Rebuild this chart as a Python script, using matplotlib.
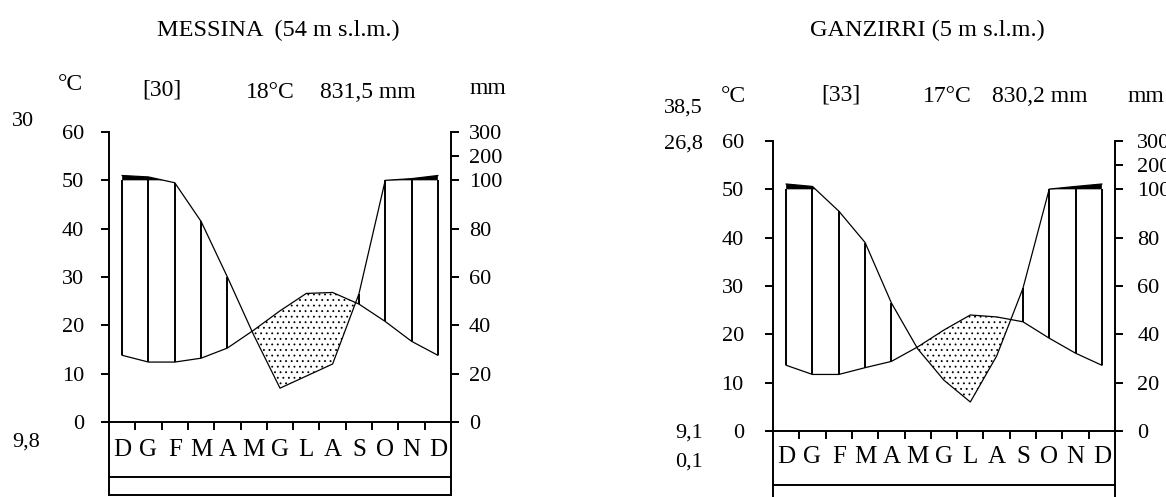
import numpy as np
import matplotlib
matplotlib.use('Agg')
import matplotlib.pyplot as plt

W, H, DPI = 1166, 497, 100

plt.rcParams['font.family'] = 'Liberation Serif'
plt.rcParams['hatch.linewidth'] = 0.6
plt.rcParams['hatch.color'] = 'black'

months = ['D', 'G', 'F', 'M', 'A', 'M', 'G', 'L', 'A', 'S', 'O', 'N', 'D']
temp_ticks = [0, 10, 20, 30, 40, 50, 60]
mm_ticks = [0, 20, 40, 60, 80, 100, 200, 300]

# Messina (54 m s.l.m.)
messina_temp = [13.8, 12.4, 12.4, 13.2, 15.3, 19.0, 23.0, 26.6, 26.8, 24.4, 20.8, 16.7, 13.8]
messina_prec = [120, 114, 99, 83, 60, 36, 14, 19, 24, 53, 100, 107, 120]

# Ganzirri (5 m s.l.m.)
ganzirri_temp = [13.6, 11.7, 11.7, 13.1, 14.4, 17.4, 20.9, 24.0, 23.6, 22.6, 19.2, 16.1, 13.6]
ganzirri_prec = [122, 112, 91, 78, 53, 34, 21, 12, 31, 59, 101, 112, 122]


def prec_scale(mm):
    # 2 mm = 1 degC up to 100 mm, then 20 mm = 1 degC
    return mm / 2.0 if mm <= 100 else 50 + (mm - 100) / 20.0


def ftext(fig, x, y, s, size=16, ha='center'):
    fig.text(x / W, 1 - y / H, s, ha=ha, va='center', fontsize=size)


def chart(fig, left, right, top_px, zero_px, bottom_px, temp, prec,
          box_y, label_y, lpad, rpad, show_bottom):
    ymin = -60.0 * (bottom_px - zero_px) / (zero_px - top_px)
    ax = fig.add_axes([left / W, 1 - bottom_px / H, (right - left) / W,
                       (bottom_px - top_px) / H])
    ax.set_xlim(-0.5, 12.5)
    ax.set_ylim(ymin, 60)

    x = np.arange(len(months))
    t = np.array(temp)
    p = np.array([prec_scale(v) for v in prec])

    # humid period: vertical lines at each month
    for xi, ti, pi in zip(x, t, p):
        if pi > ti:
            ax.plot([xi, xi], [ti, min(pi, 50)], color='black', lw=1.4,
                    solid_capstyle='butt')
    # above 100 mm in black
    ax.fill_between(x, 50, p, where=p > 50, interpolate=True,
                    color='black', lw=0)
    # dry period dotted
    ax.fill_between(x, p, t, where=p < t, interpolate=True,
                    facecolor='none', edgecolor='black', hatch='...', lw=0)

    ax.plot(x, t, color='black', lw=0.9)
    ax.plot(x, p, color='black', lw=0.9)

    # month axis and the box under it
    ax.plot([-0.015, 1.015], [0, 0], color='black', lw=1.4,
            transform=ax.get_yaxis_transform(), clip_on=False)
    ax.plot([0, 1], [box_y, box_y], color='black', lw=1.4,
            transform=ax.get_yaxis_transform(), clip_on=False)
    for xi in x[:-1]:
        ax.plot([xi + 0.5, xi + 0.5], [0, -1.75], color='black', lw=1.4,
                solid_capstyle='butt')
    for xi, m in zip(x, months):
        ax.text(xi, label_y, m, ha='center', va='center', fontsize=18)

    ax.set_xticks([])
    ax.set_yticks(temp_ticks)
    ax.tick_params(axis='y', direction='out', length=6, width=1.4,
                   pad=lpad, labelsize=16)
    ax.spines['top'].set_visible(False)
    ax.spines['right'].set_visible(False)
    ax.spines['bottom'].set_visible(show_bottom)
    for s in ('left', 'bottom'):
        ax.spines[s].set_linewidth(1.4)

    ax2 = ax.twinx()
    ax2.set_ylim(ymin, 60)
    ax2.set_yticks([prec_scale(v) for v in mm_ticks])
    ax2.set_yticklabels([str(v) for v in mm_ticks])
    ax2.tick_params(axis='y', direction='out', length=6, width=1.4,
                    pad=rpad, labelsize=16)
    for s in ('top', 'left', 'bottom'):
        ax2.spines[s].set_visible(False)
    ax2.spines['right'].set_linewidth(1.4)
    return ax


def main():
    fig = plt.figure(figsize=(W / DPI, H / DPI), dpi=DPI)

    chart(fig, 109, 451, 132, 422, 495, messina_temp, messina_prec,
          -11.4, -5.8, 12, 7, True)
    ftext(fig, 278, 30, 'MESSINA  (54 m s.l.m.)', 17.5)
    ftext(fig, 70, 85, '°C', 17)
    ftext(fig, 162, 90, '[30]', 17)
    ftext(fig, 270, 92, '18°C', 17)
    ftext(fig, 368, 92, '831,5 mm', 17)
    ftext(fig, 488, 88, 'mm', 17)
    ftext(fig, 23, 122, '30')
    ftext(fig, 26, 442, '9,8')

    chart(fig, 773, 1115, 141, 431, 497, ganzirri_temp, ganzirri_prec,
          -11.2, -5.4, 15, 10, False)
    ftext(fig, 927, 30, 'GANZIRRI (5 m s.l.m.)', 17.5)
    ftext(fig, 683, 108, '38,5')
    ftext(fig, 683, 144, '26,8')
    ftext(fig, 733, 97, '°C', 17)
    ftext(fig, 841, 95, '[33]', 17)
    ftext(fig, 947, 97, '17°C', 17)
    ftext(fig, 1040, 97, '830,2 mm', 17)
    ftext(fig, 1146, 97, 'mm', 17)
    ftext(fig, 689, 433, '9,1')
    ftext(fig, 689, 462, '0,1')

    fig.savefig('out.png', dpi=DPI)


if __name__ == "__main__":
    main()
